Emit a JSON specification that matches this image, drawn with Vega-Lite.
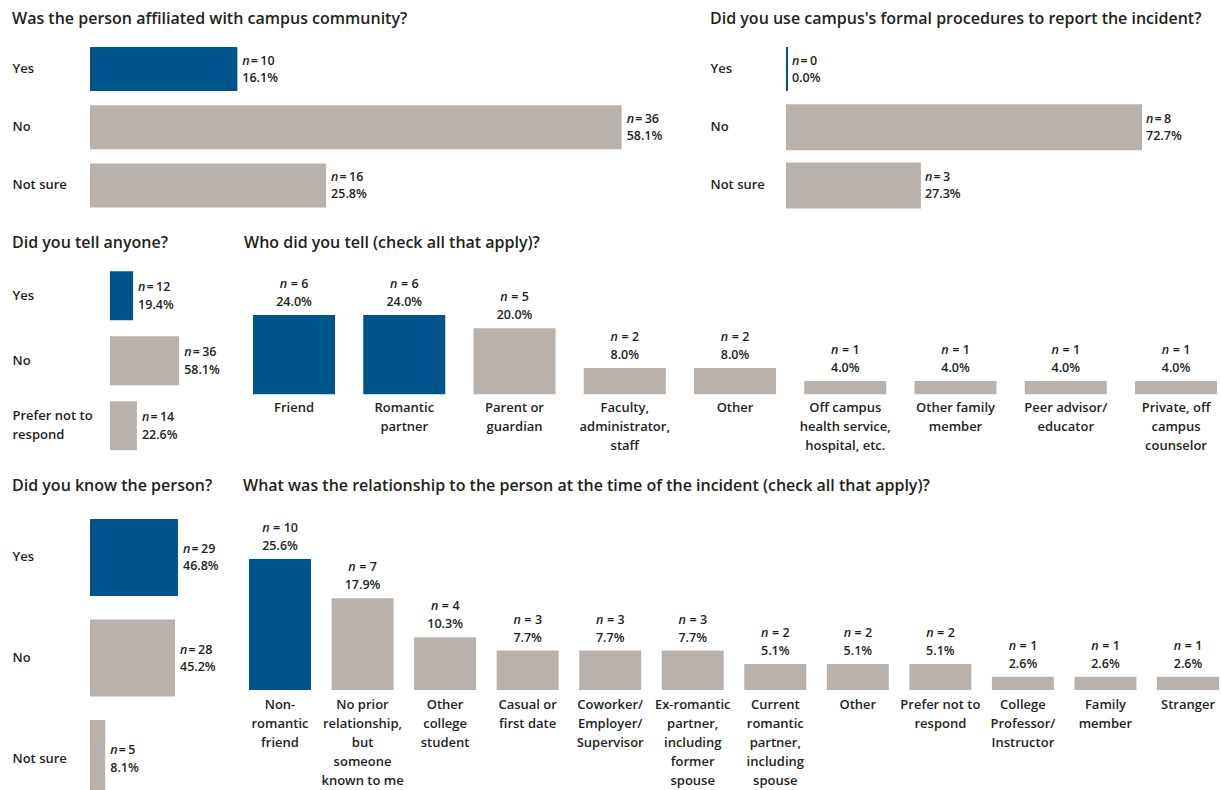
{
  "$schema": "https://vega.github.io/schema/vega-lite/v6.json",
  "padding": {"left": 12, "top": 11, "right": 2, "bottom": 0},
  "background": "white",
  "config": {
    "font": "Open Sans",
    "view": {"stroke": null},
    "title": {"anchor": "start", "fontSize": 16, "fontWeight": 600, "color": "#231f20", "font": "Open Sans", "offset": 10},
    "axis": {"domain": false, "ticks": false, "tickSize": 0, "grid": false, "labelFont": "Open Sans", "labelFontSize": 13, "labelFontWeight": 600, "labelColor": "#231f20", "labelLineHeight": 19},
    "text": {"font": "Open Sans", "fontSize": 12.5, "fontWeight": 600, "color": "#231f20", "baseline": "middle"}
  },
  "vconcat": [
    {
      "hconcat": [
        {
          "title": {"text": "Was the person affiliated with campus community?"},
          "width": 600, "height": 180.5,
          "data": {"values": [
            {"cat": "Yes", "n": 10, "share": 0.161, "hl": "y"},
            {"cat": "No", "n": 36, "share": 0.581, "hl": "n"},
            {"cat": "Not sure", "n": 16, "share": 0.258, "hl": "n"}
          ]},
          "encoding": {
            "y": {"field": "cat", "type": "nominal", "sort": null, "title": null, "scale": {"paddingInner": 0.245, "paddingOuter": 0.172}, "axis": {"labelAlign": "left", "labelPadding": 78}},
            "x": {"field": "share", "type": "quantitative", "scale": {"domain": [0, 0.6557], "nice": false}, "axis": null}
          },
          "layer": [
            {"mark": {"type": "bar"}, "encoding": {"color": {"field": "hl", "type": "nominal", "scale": {"domain": ["y", "n"], "range": ["#00548c", "#b9b1ac"]}, "legend": null}}},
            {"mark": {"type": "text", "text": "n", "fontStyle": "italic", "align": "left", "dx": 5, "dy": -8.5}},
            {"mark": {"type": "text", "text": "=", "align": "left", "dx": 13.5, "dy": -8.5}},
            {"mark": {"type": "text", "align": "left", "dx": 23, "dy": -8.5}, "encoding": {"text": {"field": "n", "type": "quantitative", "format": "d"}}},
            {"mark": {"type": "text", "align": "left", "dx": 5, "dy": 9}, "encoding": {"text": {"field": "share", "type": "quantitative", "format": ".1%"}}}
          ]
        },
        {
          "title": {"text": "Did you use campus's formal procedures to report the incident?"},
          "width": 429, "height": 180.5,
          "data": {"values": [
            {"cat": "Yes", "n": 0, "share": 0.0, "hl": "y"},
            {"cat": "No", "n": 8, "share": 0.727, "hl": "n"},
            {"cat": "Not sure", "n": 3, "share": 0.273, "hl": "n"}
          ]},
          "encoding": {
            "y": {"field": "cat", "type": "nominal", "sort": null, "title": null, "scale": {"paddingInner": 0.245, "paddingOuter": 0.172}, "axis": {"labelAlign": "left", "labelPadding": 77}},
            "x": {"field": "share", "type": "quantitative", "scale": {"domain": [0, 0.881], "nice": false}, "axis": null}
          },
          "layer": [
            {"mark": {"type": "bar", "strokeWidth": 2}, "encoding": {
              "color": {"field": "hl", "type": "nominal", "scale": {"domain": ["y", "n"], "range": ["#00548c", "#b9b1ac"]}, "legend": null},
              "stroke": {"field": "hl", "type": "nominal", "scale": {"domain": ["y", "n"], "range": ["#00548c", "#b9b1ac"]}, "legend": null}
            }},
            {"mark": {"type": "text", "text": "n", "fontStyle": "italic", "align": "left", "dx": 5, "dy": -8.5}},
            {"mark": {"type": "text", "text": "=", "align": "left", "dx": 13.5, "dy": -8.5}},
            {"mark": {"type": "text", "align": "left", "dx": 23, "dy": -8.5}, "encoding": {"text": {"field": "n", "type": "quantitative", "format": "d"}}},
            {"mark": {"type": "text", "align": "left", "dx": 5, "dy": 9}, "encoding": {"text": {"field": "share", "type": "quantitative", "format": ".1%"}}}
          ]
        }
      ],
      "spacing": 20
    },
    {
      "hconcat": [
        {
          "title": {"text": "Did you tell anyone?"},
          "width": 133, "height": 199.5,
          "data": {"values": [
            {"cat": "Yes", "n": 12, "share": 0.194, "hl": "y"},
            {"cat": "No", "n": 36, "share": 0.581, "hl": "n"},
            {"cat": "Prefer not to|respond", "n": 14, "share": 0.226, "hl": "n"}
          ]},
          "encoding": {
            "y": {"field": "cat", "type": "nominal", "sort": null, "title": null, "scale": {"paddingInner": 0.246, "paddingOuter": 0.158}, "axis": {"labelAlign": "left", "labelPadding": 78, "labelExpr": "split(datum.value, '|')", "labelOffset": {"condition": {"test": "indexof(datum.value, '|') >= 0", "value": -9.5}, "value": 0}}},
            "x": {"field": "share", "type": "quantitative", "scale": {"domain": [0, 0.9496], "range": [20, 133], "nice": false}, "axis": null}
          },
          "layer": [
            {"mark": {"type": "bar"}, "encoding": {"color": {"field": "hl", "type": "nominal", "scale": {"domain": ["y", "n"], "range": ["#00548c", "#b9b1ac"]}, "legend": null}}},
            {"mark": {"type": "text", "text": "n", "fontStyle": "italic", "align": "left", "dx": 5, "dy": -8.5}},
            {"mark": {"type": "text", "text": "=", "align": "left", "dx": 13.5, "dy": -8.5}},
            {"mark": {"type": "text", "align": "left", "dx": 23, "dy": -8.5}, "encoding": {"text": {"field": "n", "type": "quantitative", "format": "d"}}},
            {"mark": {"type": "text", "align": "left", "dx": 5, "dy": 9}, "encoding": {"text": {"field": "share", "type": "quantitative", "format": ".1%"}}}
          ]
        },
        {
          "title": {"text": "Who did you tell (check all that apply)?", "dx": -9},
          "width": 964, "height": 133.3,
          "data": {"values": [
            {"cat": "Friend", "n": 6, "share": 0.24, "hl": "y"},
            {"cat": "Romantic|partner", "n": 6, "share": 0.24, "hl": "y"},
            {"cat": "Parent or|guardian", "n": 5, "share": 0.20, "hl": "n"},
            {"cat": "Faculty,|administrator,|staff", "n": 2, "share": 0.08, "hl": "n"},
            {"cat": "Other", "n": 2, "share": 0.08, "hl": "n"},
            {"cat": "Off campus|health service,|hospital, etc.", "n": 1, "share": 0.04, "hl": "n"},
            {"cat": "Other family|member", "n": 1, "share": 0.04, "hl": "n"},
            {"cat": "Peer advisor/|educator", "n": 1, "share": 0.04, "hl": "n"},
            {"cat": "Private, off|campus|counselor", "n": 1, "share": 0.04, "hl": "n"}
          ]},
          "encoding": {
            "x": {"field": "cat", "type": "nominal", "sort": null, "title": null, "scale": {"paddingInner": 0.256, "paddingOuter": 0}, "axis": {"labelAngle": 0, "labelAlign": "center", "labelBaseline": "top", "labelPadding": 7.5, "labelExpr": "split(datum.value, '|')"}},
            "y": {"field": "share", "type": "quantitative", "scale": {"domain": [0, 0.404], "nice": false}, "axis": null}
          },
          "layer": [
            {"mark": {"type": "bar"}, "encoding": {"color": {"field": "hl", "type": "nominal", "scale": {"domain": ["y", "n"], "range": ["#00548c", "#b9b1ac"]}, "legend": null}}},
            {"mark": {"type": "text", "text": "n", "fontStyle": "italic", "align": "right", "dx": -6.8, "dy": -31}},
            {"mark": {"type": "text", "text": "=", "align": "left", "dx": -3.3, "dy": -31}},
            {"mark": {"type": "text", "align": "left", "dx": 7.3, "dy": -31}, "encoding": {"text": {"field": "n", "type": "quantitative", "format": "d"}}},
            {"mark": {"type": "text", "align": "center", "dy": -13}, "encoding": {"text": {"field": "share", "type": "quantitative", "format": ".1%"}}}
          ]
        }
      ],
      "spacing": 20
    },
    {
      "hconcat": [
        {
          "title": {"text": "Did you know the person?"},
          "width": 133, "height": 286,
          "data": {"values": [
            {"cat": "Yes", "n": 29, "share": 0.468, "hl": "y"},
            {"cat": "No", "n": 28, "share": 0.452, "hl": "n"},
            {"cat": "Not sure", "n": 5, "share": 0.081, "hl": "n"}
          ]},
          "encoding": {
            "y": {"field": "cat", "type": "nominal", "sort": null, "title": null, "scale": {"paddingInner": 0.234, "paddingOuter": 0.149, "range": [0, 308]}, "axis": {"labelAlign": "left", "labelPadding": 78}},
            "x": {"field": "share", "type": "quantitative", "scale": {"domain": [0, 0.7074], "nice": false}, "axis": null}
          },
          "layer": [
            {"mark": {"type": "bar", "clip": true}, "encoding": {"color": {"field": "hl", "type": "nominal", "scale": {"domain": ["y", "n"], "range": ["#00548c", "#b9b1ac"]}, "legend": null}}},
            {"mark": {"type": "text", "text": "n", "fontStyle": "italic", "align": "left", "dx": 5, "dy": -8.5}},
            {"mark": {"type": "text", "text": "=", "align": "left", "dx": 13.5, "dy": -8.5}},
            {"mark": {"type": "text", "align": "left", "dx": 23, "dy": -8.5}, "encoding": {"text": {"field": "n", "type": "quantitative", "format": "d"}}},
            {"mark": {"type": "text", "align": "left", "dx": 5, "dy": 9}, "encoding": {"text": {"field": "share", "type": "quantitative", "format": ".1%"}}}
          ]
        },
        {
          "title": {"text": "What was the relationship to the person at the time of the incident (check all that apply)?", "dx": -6},
          "width": 970, "height": 186,
          "data": {"values": [
            {"cat": "Non-|romantic|friend", "n": 10, "share": 0.256, "hl": "y"},
            {"cat": "No prior|relationship,|but|someone|known to me", "n": 7, "share": 0.179, "hl": "n"},
            {"cat": "Other|college|student", "n": 4, "share": 0.103, "hl": "n"},
            {"cat": "Casual or|first date", "n": 3, "share": 0.077, "hl": "n"},
            {"cat": "Coworker/|Employer/|Supervisor", "n": 3, "share": 0.077, "hl": "n"},
            {"cat": "Ex-romantic|partner,|including|former|spouse", "n": 3, "share": 0.077, "hl": "n"},
            {"cat": "Current|romantic|partner,|including|spouse", "n": 2, "share": 0.051, "hl": "n"},
            {"cat": "Other", "n": 2, "share": 0.051, "hl": "n"},
            {"cat": "Prefer not to|respond", "n": 2, "share": 0.051, "hl": "n"},
            {"cat": "College|Professor/|Instructor", "n": 1, "share": 0.026, "hl": "n"},
            {"cat": "Family|member", "n": 1, "share": 0.026, "hl": "n"},
            {"cat": "Stranger", "n": 1, "share": 0.026, "hl": "n"}
          ]},
          "encoding": {
            "x": {"field": "cat", "type": "nominal", "sort": null, "title": null, "scale": {"paddingInner": 0.249, "paddingOuter": 0}, "axis": {"labelAngle": 0, "labelAlign": "center", "labelBaseline": "top", "labelPadding": 8, "labelExpr": "split(datum.value, '|')"}},
            "y": {"field": "share", "type": "quantitative", "scale": {"domain": [0, 0.3633], "nice": false}, "axis": null}
          },
          "layer": [
            {"mark": {"type": "bar"}, "encoding": {"color": {"field": "hl", "type": "nominal", "scale": {"domain": ["y", "n"], "range": ["#00548c", "#b9b1ac"]}, "legend": null}}},
            {"transform": [{"filter": "datum.n < 10"}], "mark": {"type": "text", "text": "n", "fontStyle": "italic", "align": "right", "dx": -6.8, "dy": -31}},
            {"transform": [{"filter": "datum.n < 10"}], "mark": {"type": "text", "text": "=", "align": "left", "dx": -3.3, "dy": -31}},
            {"transform": [{"filter": "datum.n < 10"}], "mark": {"type": "text", "align": "left", "dx": 7.3, "dy": -31}, "encoding": {"text": {"field": "n", "type": "quantitative", "format": "d"}}},
            {"transform": [{"filter": "datum.n >= 10"}], "mark": {"type": "text", "text": "n", "fontStyle": "italic", "align": "right", "dx": -10.4, "dy": -31}},
            {"transform": [{"filter": "datum.n >= 10"}], "mark": {"type": "text", "text": "=", "align": "left", "dx": -6.9, "dy": -31}},
            {"transform": [{"filter": "datum.n >= 10"}], "mark": {"type": "text", "align": "left", "dx": 3.7, "dy": -31}, "encoding": {"text": {"field": "n", "type": "quantitative", "format": "d"}}},
            {"mark": {"type": "text", "align": "center", "dy": -13}, "encoding": {"text": {"field": "share", "type": "quantitative", "format": ".1%"}}}
          ]
        }
      ],
      "spacing": 20
    }
  ],
  "spacing": 17
}
